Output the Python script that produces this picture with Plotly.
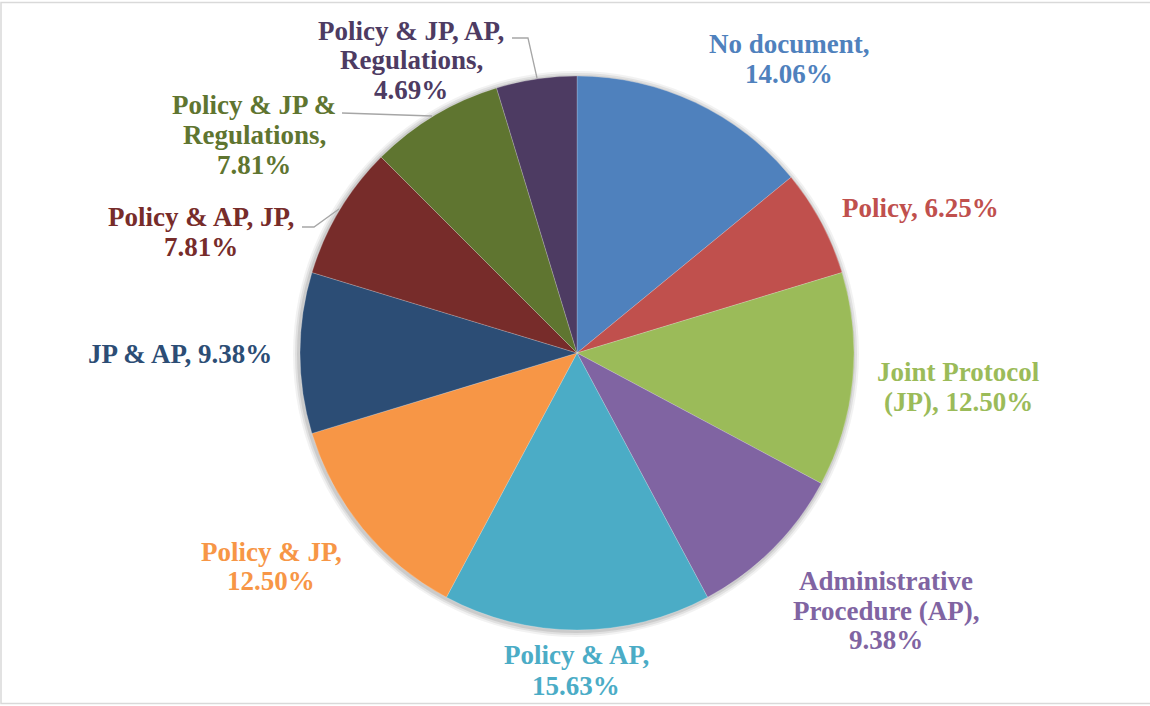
import plotly.graph_objects as go

# ---- data ----
categories = [
    "No document", "Policy", "Joint Protocol (JP)", "Administrative Procedure (AP)",
    "Policy & AP", "Policy & JP", "JP & AP", "Policy & AP, JP",
    "Policy & JP & Regulations", "Policy & JP, AP, Regulations",
]
percentages = [14.06, 6.25, 12.50, 9.38, 15.63, 12.50, 9.38, 7.81, 7.81, 4.69]
colors = [
    "#4F81BD", "#C0504D", "#9BBB59", "#8064A2", "#4BACC6",
    "#F79646", "#2C4D75", "#772C2A", "#5F7530", "#4D3B62",
]
# how each label text is broken into lines
label_lines = [
    ["No document,", "{v}"],
    ["Policy, {v}"],
    ["Joint Protocol", "(JP), {v}"],
    ["Administrative", "Procedure (AP),", "{v}"],
    ["Policy & AP,", "{v}"],
    ["Policy & JP,", "{v}"],
    ["JP & AP, {v}"],
    ["Policy & AP, JP,", "{v}"],
    ["Policy & JP &", "Regulations,", "{v}"],
    ["Policy & JP, AP,", "Regulations,", "{v}"],
]

# ---- layout constants (pixels in the 1150x706 canvas) ----
W, H = 1150, 706
CX, CY, R = 577, 353, 277
label_pos = [
    (789, [44, 74]),
    (920, [208]),
    (958, [372, 402]),
    (886, [581, 611, 640]),
    (576, [655, 686]),
    (271, [552, 581]),
    (180, [354]),
    (201, [217, 247]),
    (254, [105, 135, 165]),
    (411, [31, 60, 90]),
]
leaders = [
    [(302, 227), (314, 227), (339, 209)],
    [(342, 113), (432, 116)],
    [(512, 38), (528, 38), (537, 78)],
]


def px(x):
    return x / W


def py(y):
    return 1 - y / H


fig = go.Figure()
fig.add_trace(go.Pie(
    labels=categories,
    values=percentages,
    sort=False,
    direction="clockwise",
    rotation=0,
    textinfo="none",
    hoverinfo="label+percent",
    marker=dict(colors=colors, line=dict(color="rgba(255,255,255,0.35)", width=0.6)),
    domain=dict(x=[px(CX - R), px(CX + R)], y=[py(CY + R), py(CY - R)]),
    showlegend=False,
))

annotations = []
for cat, val, col, lines, (lx, lys) in zip(categories, percentages, colors, label_lines, label_pos):
    vs = f"{val:.2f}%"
    for ln, ly in zip(lines, lys):
        annotations.append(dict(
            x=px(lx), y=py(ly), xref="paper", yref="paper",
            text="<b>" + ln.replace("{v}", vs).replace("&", "&amp;") + "</b>",
            showarrow=False, xanchor="center", yanchor="middle",
            font=dict(family="Liberation Serif, Times New Roman, serif", size=27, color=col),
        ))

shapes = []
for grow, op in [(6, 0.05), (4, 0.07), (2, 0.09)]:
    shapes.append(dict(
        type="circle", xref="paper", yref="paper", layer="below",
        x0=px(CX - R - grow - 1), x1=px(CX + R + grow - 1),
        y0=py(CY + R + grow + 1), y1=py(CY - R - grow + 1),
        fillcolor=f"rgba(0,0,0,{op})", line=dict(width=0),
    ))
for pts in leaders:
    path = "M " + " L ".join(f"{px(x)},{py(y)}" for x, y in pts)
    shapes.append(dict(type="path", xref="paper", yref="paper", path=path,
                       line=dict(color="#A6A6A6", width=1.3)))
shapes.append(dict(type="rect", xref="paper", yref="paper",
                   x0=px(1), x1=px(1152), y0=py(703.5), y1=py(2.5),
                   line=dict(color="#D9D9D9", width=1.5), fillcolor="rgba(0,0,0,0)"))

fig.update_layout(
    width=W, height=H,
    margin=dict(l=0, r=0, t=0, b=0),
    paper_bgcolor="white", plot_bgcolor="white",
    annotations=annotations, shapes=shapes,
)
fig.write_html(
    "out.html",
    config={"displayModeBar": False},
    post_script="document.body.style.margin='0px';document.body.style.overflow='hidden';",
)
